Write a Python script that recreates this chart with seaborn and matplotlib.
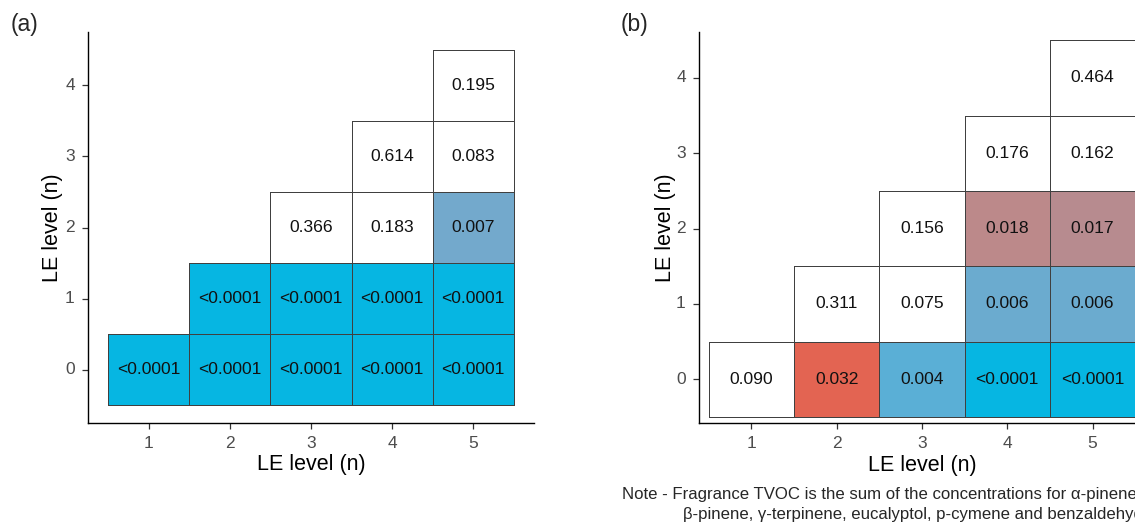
import numpy as np
import pandas as pd
import matplotlib
matplotlib.use("Agg")
import matplotlib.pyplot as plt
from matplotlib.colors import LinearSegmentedColormap
import seaborn as sns

# LE level combinations: columns are the LE level on the x axis, rows on the y axis
x_levels = [1, 2, 3, 4, 5]
y_levels = [0, 1, 2, 3, 4]

# p-values (NaN = comparison not made); 0.00001 stands for "<0.0001"
p_a = [
    [0.00001, 0.00001, 0.00001, 0.00001, 0.00001],   # n = 0
    [np.nan,  0.00001, 0.00001, 0.00001, 0.00001],   # n = 1
    [np.nan,  np.nan,  0.366,   0.183,   0.007],     # n = 2
    [np.nan,  np.nan,  np.nan,  0.614,   0.083],     # n = 3
    [np.nan,  np.nan,  np.nan,  np.nan,  0.195],     # n = 4
]
p_b = [
    [0.090,   0.032,   0.004,   0.00001, 0.00001],
    [np.nan,  0.311,   0.075,   0.006,   0.006],
    [np.nan,  np.nan,  0.156,   0.018,   0.017],
    [np.nan,  np.nan,  np.nan,  0.176,   0.162],
    [np.nan,  np.nan,  np.nan,  np.nan,  0.464],
]
panel_tags = ["(a)", "(b)"]
axis_title = "LE level (n)"
note_lines = [
    "Note - Fragrance TVOC is the sum of the concentrations for \u03b1-pinene,",
    "\u03b2-pinene, \u03b3-terpinene, eucalyptol, p-cymene and benzaldehyde",
]

sns.set_style("white")
plt.rcParams["font.family"] = ["Liberation Sans", "DejaVu Sans"]

# significance scale: cyan (p ~ 0) through steel blue and mauve to red at p = 0.05,
# non-significant values (above 0.05) are white
sig_cmap = LinearSegmentedColormap.from_list(
    "sig",
    [(0.00, "#06B6E2"), (0.08, "#5CAFD6"), (0.14, "#74A9CB"),
     (0.35, "#BA8A8C"), (0.64, "#E36452"), (1.00, "#F0442A")],
)
sig_cmap.set_over("white")
sig_cmap.set_bad((0, 0, 0, 0))


def fmt_p(p):
    if np.isnan(p):
        return ""
    return "<0.0001" if p < 0.0001 else f"{p:.3f}"


def draw_panel(ax, pvals, xlim, ylim):
    df = pd.DataFrame(pvals, index=y_levels, columns=x_levels)
    labels = df.map(fmt_p).values
    mask = df.isna().values
    sns.heatmap(df, ax=ax, cmap=sig_cmap, vmin=0, vmax=0.05, mask=mask,
                annot=labels, fmt="", cbar=False,
                linewidths=0.55, linecolor="#3a3a3a",
                annot_kws=dict(size=12.6, color="#111111"),
                xticklabels=x_levels, yticklabels=y_levels)
    mesh = ax.collections[0]
    # outline only the cells that hold a comparison
    edge = np.array([(0, 0, 0, 0) if m else (0.25, 0.25, 0.25, 1.0)
                     for m in mask.ravel()])
    mesh.set_edgecolor(edge)

    ax.set_xlim(*xlim)
    ax.set_ylim(*ylim)
    for side in ["left", "bottom"]:
        ax.spines[side].set_visible(True)
        ax.spines[side].set_color("black")
        ax.spines[side].set_linewidth(1.0)
    for side in ["top", "right"]:
        ax.spines[side].set_visible(False)
    ax.tick_params(axis="both", which="major", length=4.5, width=0.9,
                   color="#333333", labelcolor="#4D4D4D", labelsize=12.5,
                   direction="out", bottom=True, left=True)
    ax.tick_params(axis="x", pad=5)
    ax.tick_params(axis="y", pad=5)
    plt.setp(ax.get_yticklabels(), rotation=0)
    plt.setp(ax.get_xticklabels(), rotation=0)

    ax.set_xlabel(axis_title, fontsize=15.5, color="black")
    ax.set_ylabel(axis_title, fontsize=15.5, color="black")
    ax.xaxis.label.set_va("center")
    ax.yaxis.label.set_va("center")


W, H = 1135, 523
fig = plt.figure(figsize=(W / 100, H / 100), dpi=100)

ax_a = fig.add_axes([88 / W, (H - 423) / H, 446 / W, 391 / H])
draw_panel(ax_a, p_a, xlim=(-0.25, 5.25), ylim=(-0.25, 5.25))
ax_a.xaxis.set_label_coords(0.5, -0.107)
ax_a.yaxis.set_label_coords(-0.079, 0.5)

ax_b = fig.add_axes([699 / W, (H - 422.5) / H, 446 / W, 390.5 / H])
draw_panel(ax_b, p_b, xlim=(-0.115, 5.115), ylim=(-0.075, 5.11))
ax_b.xaxis.set_label_coords(0.5, -0.109)
ax_b.yaxis.set_label_coords(-0.076, 0.5)

fig.text(11 / W, 1 - 24 / H, panel_tags[0], fontsize=16.5, ha="left", va="center")
fig.text(621 / W, 1 - 24 / H, panel_tags[1], fontsize=16.5, ha="left", va="center")

# the note runs past the right edge of the canvas, as panel (b) does
fig.text(622 / W, 1 - 494 / H, note_lines[0], fontsize=12.08, ha="left", va="center")
fig.text(683 / W, 1 - 514 / H, note_lines[1], fontsize=12.08, ha="left", va="center")

fig.savefig("out.png", dpi=100)
